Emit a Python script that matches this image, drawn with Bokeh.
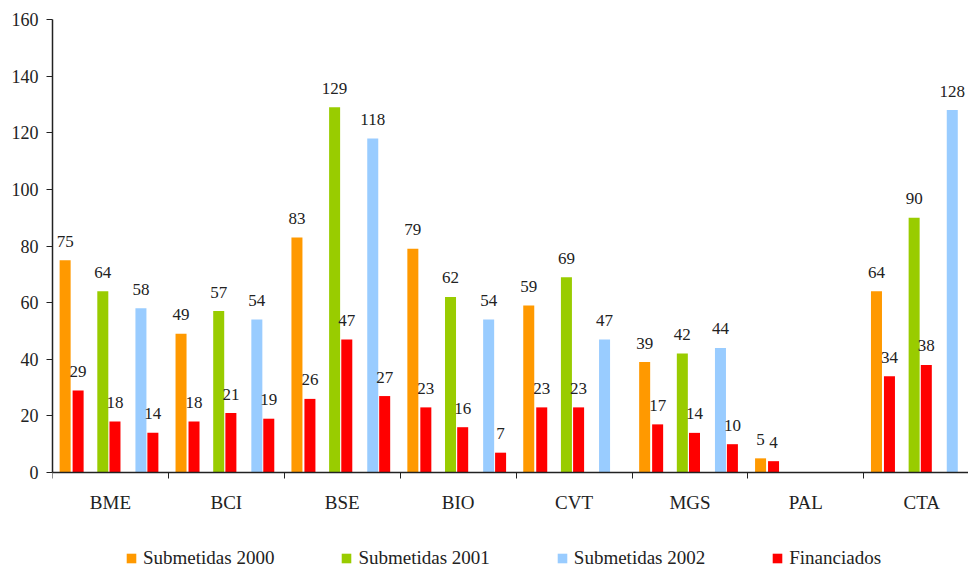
from bokeh.plotting import figure
from bokeh.models import ColumnDataSource, Legend, LegendItem, FixedTicker, Range1d
from bokeh.core.properties import value
from bokeh.embed import file_html
from bokeh.resources import INLINE

categories = ["BME", "BCI", "BSE", "BIO", "CVT", "MGS", "PAL", "CTA"]
sub_2000 = [75, 49, 83, 79, 59, 39, 5, 64]
fin_2000 = [29, 18, 26, 23, 23, 17, 4, 34]
sub_2001 = [64, 57, 129, 62, 69, 42, None, 90]
fin_2001 = [18, 21, 47, 16, 23, 14, None, 38]
sub_2002 = [58, 54, 118, 54, 47, 44, None, 128]
fin_2002 = [14, 19, 27, 7, None, 10, None, None]
y_ticks = [0, 20, 40, 60, 80, 100, 120, 140, 160]

FONT = "'Liberation Serif', serif"
TXT = "#222222"

# frame: 453 px for 0..160, plus 97 px below the axis for labels and legend
p = figure(frame_width=916, frame_height=550, output_backend="svg", toolbar_location=None,
           x_range=Range1d(0, 7.903), y_range=Range1d(-34.26, 160),
           min_border_left=52, min_border_top=19, min_border_right=0, min_border_bottom=0)
p.outline_line_color = None
p.xgrid.visible = False
p.ygrid.visible = False

series = [
    (sub_2000, "#FF9900", 0.109),
    (fin_2000, "#FF0000", 0.221),
    (sub_2001, "#99CC00", 0.434),
    (fin_2001, "#FF0000", 0.539),
    (sub_2002, "#99CCFF", 0.763),
    (fin_2002, "#FF0000", 0.866),
]
renderers = []
for vals, color, off in series:
    xs, tops, labels = [], [], []
    for i, v in enumerate(vals):
        if v is None:
            continue
        xs.append(i + off)
        tops.append(v)
        labels.append(str(v))
    src = ColumnDataSource(dict(x=xs, top=tops, label=labels))
    r = p.vbar(x="x", top="top", bottom=0, width=0.095, source=src,
               fill_color=color, line_color=None)
    p.text(x="x", y="top", text="label", source=src, text_align="center",
           text_baseline="middle", y_offset=-19, text_font=value(FONT),
           text_font_size="17px", text_color=TXT)
    renderers.append(r)

# x axis (drawn at y = 0)
p.xaxis.fixed_location = 0
p.xaxis.ticker = FixedTicker(ticks=[i + 0.5 for i in range(len(categories))],
                             minor_ticks=list(range(len(categories))))
p.xaxis.major_label_overrides = {i + 0.5: c for i, c in enumerate(categories)}
p.xaxis.major_tick_in = 0
p.xaxis.major_tick_out = 0
p.xaxis.major_tick_line_color = None
p.xaxis.minor_tick_in = 0
p.xaxis.minor_tick_out = 6
p.xaxis.minor_tick_line_color = TXT
p.xaxis.axis_line_color = TXT
p.xaxis.axis_line_width = 1.5
p.xaxis.major_label_standoff = 13
p.xaxis.major_label_text_font = FONT
p.xaxis.major_label_text_font_size = "19px"
p.xaxis.major_label_text_color = TXT

# y axis
p.yaxis.bounds = (0, 160)
p.yaxis.ticker = FixedTicker(ticks=y_ticks, minor_ticks=[])
p.yaxis.major_tick_in = 0
p.yaxis.major_tick_out = 6
p.yaxis.major_tick_line_color = TXT
p.yaxis.minor_tick_line_color = None
p.yaxis.axis_line_color = TXT
p.yaxis.axis_line_width = 1.5
p.yaxis.major_label_standoff = 8
p.yaxis.major_label_text_font = FONT
p.yaxis.major_label_text_font_size = "18px"
p.yaxis.major_label_text_color = TXT

legend = Legend(items=[
    LegendItem(label="Submetidas 2000", renderers=[renderers[0]]),
    LegendItem(label="Submetidas 2001", renderers=[renderers[2]]),
    LegendItem(label="Submetidas 2002", renderers=[renderers[4]]),
    LegendItem(label="Financiados", renderers=[renderers[1]]),
], orientation="horizontal", location=(73, 0), glyph_width=12, glyph_height=12,
    label_standoff=6, spacing=66, padding=0, margin=0, border_line_color=None,
    background_fill_alpha=0, label_text_font=FONT, label_text_font_size="19px",
    label_height=20, label_text_color=TXT)
p.add_layout(legend, "center")

open("out.html", "w").write(file_html(p, INLINE))
